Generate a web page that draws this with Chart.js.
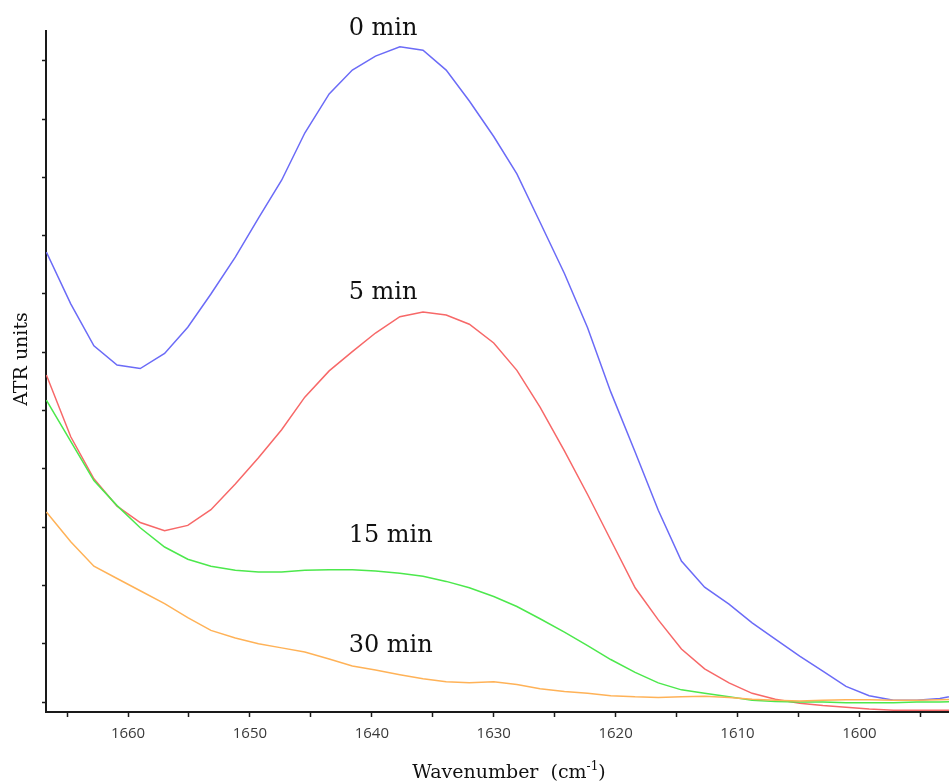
<!DOCTYPE html>
<html>
<head>
<meta charset="utf-8">
<script src="https://cdn.jsdelivr.net/npm/chart.js@4.4.0/dist/chart.umd.min.js"></script>
<style>
  html, body { margin: 0; padding: 0; background: #fff; }
  #wrap { width: 949px; height: 782px; }
</style>
</head>
<body>
<div id="wrap"><canvas id="atr"></canvas></div>
<script>
// wavenumber (cm-1) of each spectrum point
const wavenumbers = [1666.7, 1664.7, 1662.8, 1660.9, 1659.0, 1657.0, 1655.1, 1653.2, 1651.2, 1649.3,
  1647.4, 1645.5, 1643.5, 1641.6, 1639.7, 1637.7, 1635.8, 1633.9, 1632.0, 1630.0,
  1628.1, 1626.2, 1624.2, 1622.3, 1620.4, 1618.4, 1616.5, 1614.6, 1612.7, 1610.7,
  1608.8, 1606.9, 1604.9, 1603.0, 1601.1, 1599.2, 1597.2, 1595.3, 1593.4, 1591.4];

// ATR units per spectrum
const min0 = [7.72, 6.83, 6.11, 5.78, 5.72, 5.98, 6.43, 7.00, 7.63, 8.30,
  8.95, 9.76, 10.43, 10.84, 11.08, 11.24, 11.18, 10.84, 10.31, 9.70,
  9.06, 8.23, 7.35, 6.42, 5.32, 4.29, 3.29, 2.42, 1.97, 1.68,
  1.36, 1.08, 0.79, 0.53, 0.27, 0.11, 0.03, 0.03, 0.06, 0.14];
const min5 = [5.61, 4.55, 3.83, 3.36, 3.08, 2.94, 3.03, 3.30, 3.74, 4.19,
  4.67, 5.23, 5.68, 6.01, 6.33, 6.61, 6.69, 6.64, 6.48, 6.16,
  5.69, 5.06, 4.31, 3.56, 2.78, 1.96, 1.41, 0.91, 0.57, 0.33,
  0.15, 0.05, -0.02, -0.06, -0.09, -0.12, -0.14, -0.14, -0.14, -0.14];
const min15 = [5.18, 4.47, 3.80, 3.37, 2.99, 2.66, 2.45, 2.33, 2.26, 2.23,
  2.23, 2.26, 2.27, 2.27, 2.25, 2.21, 2.16, 2.07, 1.96, 1.81,
  1.64, 1.43, 1.20, 0.97, 0.73, 0.51, 0.33, 0.21, 0.15, 0.09,
  0.03, 0.01, 0.00, 0.00, -0.01, -0.01, -0.01, 0.00, 0.00, 0.01];
const min30 = [3.26, 2.75, 2.33, 2.12, 1.91, 1.69, 1.45, 1.23, 1.10, 1.00,
  0.93, 0.86, 0.74, 0.62, 0.55, 0.47, 0.40, 0.35, 0.33, 0.35,
  0.30, 0.23, 0.18, 0.15, 0.11, 0.09, 0.08, 0.09, 0.10, 0.08,
  0.05, 0.03, 0.02, 0.03, 0.04, 0.04, 0.03, 0.03, 0.04, 0.05];

// text labels next to the curves (anchored in data units)
const curveLabels = ['0 min', '5 min', '15 min', '30 min'];
const labelWn = [1641.9, 1641.9, 1641.9, 1641.9];
const labelVal = [11.44, 6.91, 2.74, 0.86];

function toPoints(values) {
  return values.map((v, i) => ({ x: wavenumbers[i], y: v }));
}

// draws the curve labels and the two serif axis titles
const textPlugin = {
  id: 'textPlugin',
  afterDraw(chart) {
    const ctx = chart.ctx;
    const xs = chart.scales.x, ys = chart.scales.y;
    ctx.save();
    ctx.fillStyle = '#111';
    ctx.textBaseline = 'alphabetic';
    ctx.textAlign = 'left';
    ctx.font = '24px "DejaVu Serif"';
    for (let i = 0; i < curveLabels.length; i++) {
      ctx.fillText(curveLabels[i], xs.getPixelForValue(labelWn[i]), ys.getPixelForValue(labelVal[i]));
    }

    // x title with superscript
    ctx.font = '19px "DejaVu Serif"';
    const part1 = 'Wavenumber  (cm', sup = '-1', part3 = ')';
    const w1 = ctx.measureText(part1).width;
    const w3 = ctx.measureText(part3).width;
    ctx.font = '12px "DejaVu Serif"';
    const w2 = ctx.measureText(sup).width;
    let x0 = 509 - (w1 + w2 + w3) / 2;
    const base = 778;
    ctx.font = '19px "DejaVu Serif"';
    ctx.fillText(part1, x0, base);
    ctx.font = '12px "DejaVu Serif"';
    ctx.fillText(sup, x0 + w1, base - 8);
    ctx.font = '19px "DejaVu Serif"';
    ctx.fillText(part3, x0 + w1 + w2, base);

    // y title
    ctx.translate(27, 359);
    ctx.rotate(-Math.PI / 2);
    ctx.textAlign = 'center';
    ctx.fillText('ATR units', 0, 0);
    ctx.restore();
  }
};

const axisColor = '#1a1a1a';

new Chart(document.getElementById('atr'), {
  type: 'line',
  data: {
    datasets: [
      { label: '0 min', data: toPoints(min0), borderColor: '#6b6bf7', order: 4 },
      { label: '5 min', data: toPoints(min5), borderColor: '#f76868', order: 3 },
      { label: '15 min', data: toPoints(min15), borderColor: '#4ce84c', order: 2 },
      { label: '30 min', data: toPoints(min30), borderColor: '#ffb257', order: 1 }
    ]
  },
  options: {
    responsive: true,
    maintainAspectRatio: false,
    animation: false,
    layout: { padding: { top: 31, right: 0, left: 0, bottom: 0 } },
    elements: {
      point: { radius: 0 },
      line: { borderWidth: 1.5, tension: 0, fill: false }
    },
    plugins: {
      legend: { display: false },
      tooltip: { enabled: false }
    },
    scales: {
      x: {
        type: 'linear',
        reverse: true,
        min: 1592.65,
        max: 1666.73,
        afterFit(scale) { scale.height = 70; },
        border: { display: true, color: axisColor, width: 2 },
        grid: { drawOnChartArea: false, drawTicks: true, tickLength: 5, tickColor: axisColor, tickWidth: 1.5 },
        ticks: {
          stepSize: 5,
          includeBounds: false,
          autoSkip: false,
          maxRotation: 0,
          padding: 8,
          color: '#3a3a3a',
          font: { family: 'Open Sans', size: 15 },
          callback: function (v) {
            const r = Math.round(v);
            return r % 10 === 0 ? String(r) : '';
          }
        }
      },
      y: {
        min: -0.17,
        max: 11.51,
        afterFit(scale) { scale.width = 46; },
        border: { display: true, color: axisColor, width: 2 },
        grid: { drawOnChartArea: false, drawTicks: true, tickLength: 4, tickColor: axisColor, tickWidth: 1.5 },
        ticks: {
          stepSize: 1,
          includeBounds: false,
          callback: function () { return ''; }
        }
      }
    }
  },
  plugins: [textPlugin]
});
</script>
</body>
</html>
